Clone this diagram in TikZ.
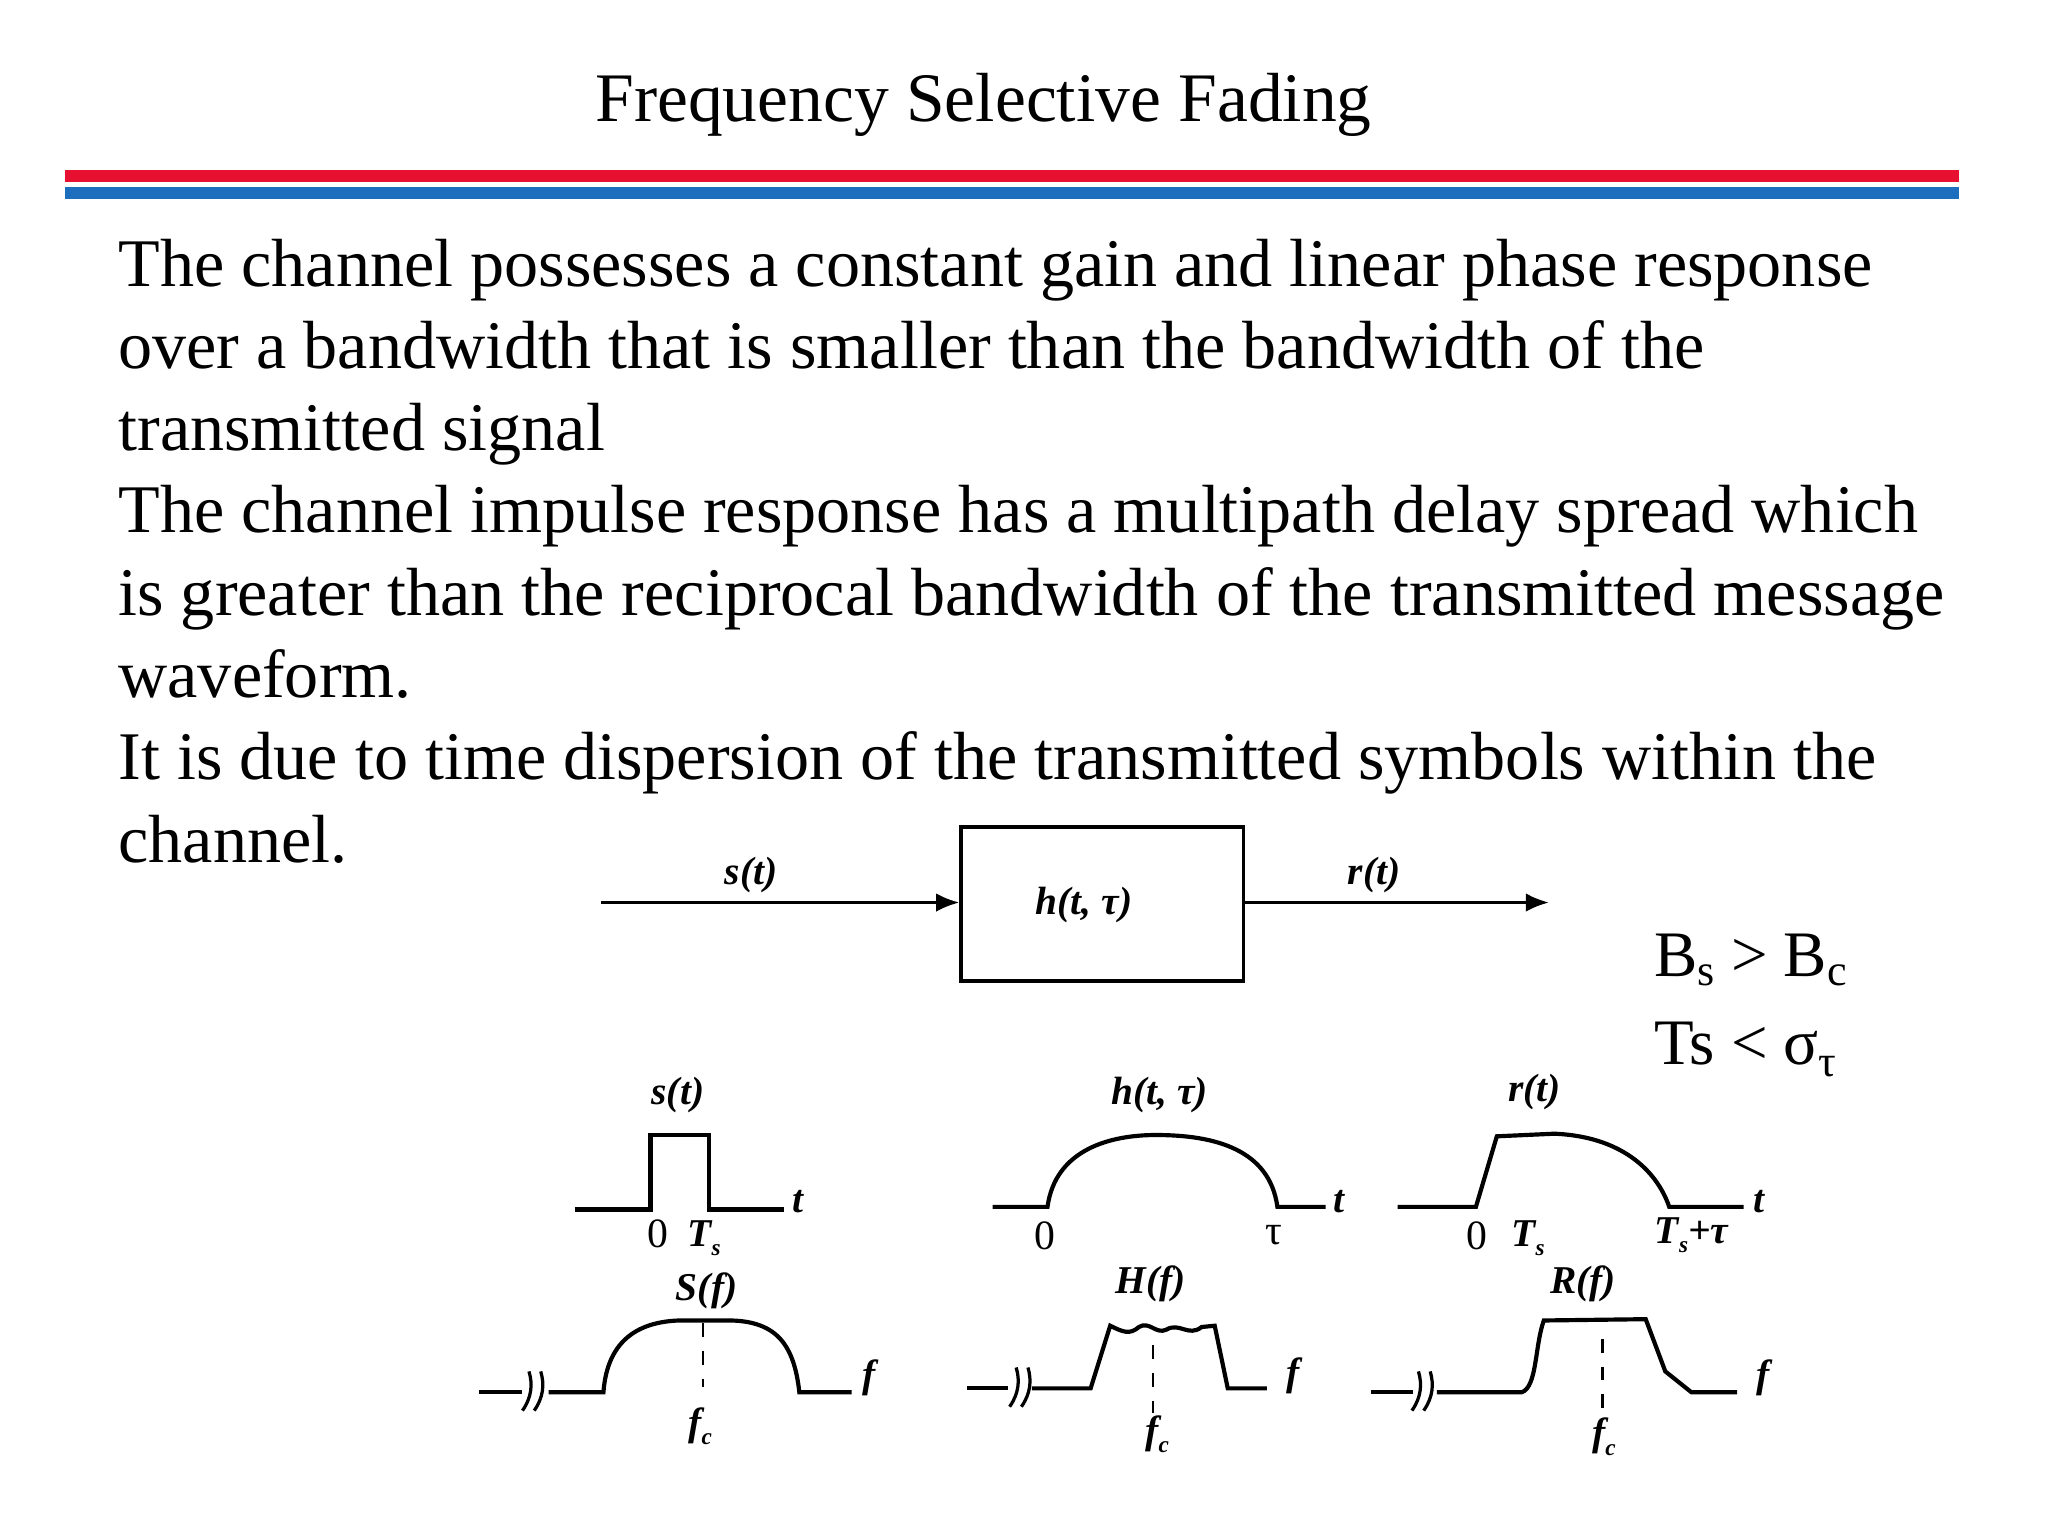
\documentclass[tikz,border=0pt]{standalone}
\usepackage{fontspec}
\setmainfont{Liberation Serif}
\usetikzlibrary{arrows.meta}
\definecolor{barred}{RGB}{232,16,48}
\definecolor{barblue}{RGB}{30,110,190}
\begin{document}
\begin{tikzpicture}[x=0.0099cm,y=-0.0099cm,
  body/.style={anchor=base west,inner sep=0,font=\fontsize{14.7}{16}\selectfont},
  lab/.style={inner sep=0,font=\fontsize{8.5}{9}\selectfont\itshape\bfseries},
  num/.style={inner sep=0,font=\fontsize{9}{9}\selectfont},
  ax/.style={line width=0.9pt},
  arr/.style={line width=0.7pt,-{Latex[length=5pt,width=4pt]}},
  brk/.style={line width=0.7pt}]
\useasboundingbox (0,0) rectangle (1568,1176);
\node[inner sep=0,font=\fontsize{15}{16}\selectfont] (title) at (753,80) {Frequency Selective Fading};
\fill[barred] (50,130) rectangle (1500,139);
\fill[barblue] (50,143) rectangle (1500,152);
\node[body] (l1) at (90,219) {The channel possesses a constant gain and linear phase response};
\node[body] (l2) at (90,282) {over a bandwidth that is smaller than the bandwidth of the};
\node[body] (l3) at (90,345) {transmitted signal};
\node[body] (l4) at (90,408) {The channel impulse response has a multipath delay spread which};
\node[body] (l5) at (90,471) {is greater than the reciprocal bandwidth of the transmitted message};
\node[body] (l6) at (90,534) {waveform.};
\node[body] (l7) at (90,597) {It is due to time dispersion of the transmitted symbols within the};
\node[body] (l8) at (90,660) {channel.};
% block diagram
\node[draw,line width=0.8pt,minimum width=2.14cm,minimum height=1.17cm,inner sep=0] (box) at (844,692) {};
\node[lab] (hl) at (830,693) {h(t, τ)};
\coordinate (in) at (460,691);
\coordinate (out) at (1186,691);
\draw[arr] (in) -- (box.west|-in);
\draw[arr] (box.east|-out) -- (out);
\node[lab] (sl) at (575,670) {s(t)};
\node[lab] (rl) at (1052,670) {r(t)};
\node[anchor=base west,inner sep=0,font=\fontsize{14}{16}\selectfont] (c1) at (1266,748) {B\raisebox{-0.3ex}{\fontsize{9.5}{9}\selectfont s} > B\raisebox{-0.3ex}{\fontsize{9.5}{9}\selectfont c}};
\node[anchor=base west,inner sep=0,font=\fontsize{14}{16}\selectfont] (c2) at (1266,815) {Ts < σ\raisebox{-0.4ex}{\fontsize{9.5}{9}\selectfont τ}};
% s(t)
\draw[ax] (440,926) -- (498,926) -- (498,869) -- (543,869) -- (543,926) -- (600,926);
\node[lab] (st) at (519,838) {s(t)};
\node[lab] (t1) at (611,920) {t};
\node[num] (z1) at (504,945) {0};
\node[lab] (ts1) at (539,948) {T\raisebox{-0.5ex}{\tiny s}};
% h(t,tau)
\draw[ax] (760,924) -- (802,924) .. controls (808,880) and (850,869) .. (885,869) .. controls (930,869) and (972,880) .. (978,924) -- (1015,924);
\node[lab] (ht) at (888,838) {h(t, τ)};
\node[lab] (t2) at (1025,920) {t};
\node[num] (z2) at (800,946) {0};
\node[num] (tau2) at (975,946) {τ};
% r(t)
\draw[ax] (1070,924) -- (1130,924) -- (1146,870) -- (1190,868) .. controls (1240,870) and (1268,895) .. (1278,924) -- (1335,924);
\node[lab] (rt) at (1175,836) {r(t)};
\node[lab] (t3) at (1347,920) {t};
\node[num] (z3) at (1131,946) {0};
\node[lab] (ts3) at (1170,948) {T\raisebox{-0.5ex}{\tiny s}};
\node[lab] (tst3) at (1295,946) {T\raisebox{-0.5ex}{\tiny s}+τ};
% S(f)
\draw[ax] (367,1066) -- (400,1066);
\draw[brk] (400,1080) .. controls (407,1070) and (408,1060) .. (405,1050);
\draw[brk] (409,1080) .. controls (416,1070) and (417,1060) .. (414,1050);
\draw[ax] (420,1066) -- (462,1066) .. controls (465,1025) and (490,1012) .. (520,1011) -- (560,1011) .. controls (595,1012) and (608,1030) .. (612,1066) -- (652,1066);
\draw[dash pattern=on 3pt off 3pt,line width=0.5pt] (538,1013) -- (538,1062);
\node[lab] (Sf) at (541,988) {S(f)};
\node[lab] (f1) at (665,1055) {f};
\node[lab] (fc1) at (536,1092) {f\raisebox{-0.5ex}{\tiny c}};
% H(f)
\draw[ax] (740,1063) -- (772,1063);
\draw[brk] (773,1077) .. controls (780,1067) and (781,1057) .. (778,1047);
\draw[brk] (782,1077) .. controls (789,1067) and (790,1057) .. (787,1047);
\draw[ax] (790,1063) -- (835,1063) -- (850,1015) .. controls (860,1020) and (865,1022) .. (872,1016) .. controls (880,1011) and (885,1022) .. (893,1018) .. controls (903,1012) and (910,1024) .. (920,1016) -- (930,1015) -- (940,1063) -- (970,1063);
\draw[dash pattern=on 3pt off 3pt,line width=0.5pt] (883,1030) -- (883,1082);
\node[lab] (Hf) at (881,983) {H(f)};
\node[lab] (f2) at (990,1053) {f};
\node[lab] (fc2) at (886,1098) {f\raisebox{-0.5ex}{\tiny c}};
% R(f)
\draw[ax] (1050,1066) -- (1082,1066);
\draw[brk] (1081,1080) .. controls (1088,1070) and (1089,1060) .. (1086,1050);
\draw[brk] (1090,1080) .. controls (1097,1070) and (1098,1060) .. (1095,1050);
\draw[ax] (1100,1066) -- (1165,1066) .. controls (1177,1062) and (1175,1030) .. (1182,1011) -- (1260,1010) -- (1275,1050) -- (1295,1066) -- (1330,1066);
\draw[dash pattern=on 3pt off 3pt,line width=0.5pt] (1227,1025) -- (1227,1085);
\node[lab] (Rf) at (1212,983) {R(f)};
\node[lab] (f3) at (1350,1055) {f};
\node[lab] (fc3) at (1228,1100) {f\raisebox{-0.5ex}{\tiny c}};
\end{tikzpicture}
\end{document}
